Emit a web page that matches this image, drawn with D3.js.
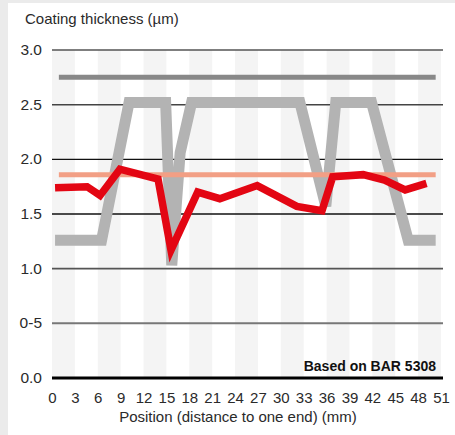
<!DOCTYPE html>
<html><head><meta charset="utf-8">
<script src="https://cdn.jsdelivr.net/npm/d3@7"></script>
<style>html,body{margin:0;padding:0;background:#ebebeb;}svg{display:block;}</style>
</head><body>
<svg id="chart" width="455" height="435"></svg>
<script>
// ---- data ----
const yTicks = [0, 0.5, 1.0, 1.5, 2.0, 2.5, 3.0];
const yTickLabels = ["0.0", "0-5", "1.0", "1.5", "2.0", "2.5", "3.0"];
const xTicks = [0, 3, 6, 9, 12, 15, 18, 21, 24, 27, 30, 33, 36, 39, 42, 45, 48, 51];
// measured coating thickness (red)
const redX = [0.4, 4.6, 6.3, 8.9, 13.9, 15.6, 19.1, 22.0, 26.9, 32.1, 35.4, 36.8, 40.8, 43.6, 46.3, 49.1];
const redY = [1.74, 1.75, 1.67, 1.91, 1.82, 1.17, 1.70, 1.64, 1.76, 1.57, 1.53, 1.84, 1.86, 1.81, 1.72, 1.78];
// reference profile (light grey)
const greyX = [0.4, 6.5, 10.1, 14.9, 15.7, 16.8, 18.3, 32.5, 35.9, 37.2, 41.9, 46.7, 50.3];
const greyY = [1.26, 1.26, 2.52, 2.52, 1.03, 2.06, 2.52, 2.52, 1.57, 2.52, 2.52, 1.26, 1.26];
// horizontal reference levels
const levelX = [0.9, 50.3];
const darkLevel = 2.75;
const salmonLevel = 1.86;
const noteText = "Based on BAR 5308";
const yTitle = "Coating thickness (\u00b5m)";
const xTitle = "Position (distance to one end) (mm)";

// ---- drawing ----
const svg = d3.select("#chart");
const font = "'Liberation Sans', Arial, Helvetica, sans-serif";
svg.append("rect").attr("x", 8).attr("y", 3).attr("width", 447).attr("height", 432).attr("fill", "#fff");

const x = d3.scaleLinear().domain([0, 51]).range([52, 441]);
const y = d3.scaleLinear().domain([0, 3]).range([378, 50]);

// stripes
const bands = d3.range(0, 51, 3).filter((d, i) => i % 2 === 0);
svg.append("g").selectAll("rect").data(bands).join("rect")
  .attr("x", d => x(d)).attr("width", d => x(d + 3) - x(d))
  .attr("y", y(3)).attr("height", y(0) - y(3))
  .attr("fill", "#f4f4f4");

// gridlines
const gridStyle = {3: ["#555", 1.5], 2.5: ["#444", 1.5], 2: ["#111", 1.3], 1.5: ["#111", 1.3], 1: ["#555", 1.8], 0.5: ["#777", 2], 0: ["#000", 3]};
svg.append("g").selectAll("line").data(yTicks).join("line")
  .attr("x1", 52).attr("x2", 443)
  .attr("y1", d => y(d)).attr("y2", d => y(d))
  .attr("stroke", d => gridStyle[d][0]).attr("stroke-width", d => gridStyle[d][1]);

// y axis labels
const yAxis = d3.axisLeft(y).tickValues(yTicks).tickSize(0).tickPadding(0)
  .tickFormat((d, i) => yTickLabels[i]);
const gy = svg.append("g").attr("transform", "translate(42,0)").call(yAxis);
gy.select(".domain").remove();
gy.selectAll("text").attr("font-family", font).attr("font-size", 15.5).attr("fill", "#2a2a2a").attr("dy", "0.3em");

// x axis labels
const xAxis = d3.axisBottom(x).tickValues(xTicks).tickSize(0).tickPadding(0).tickFormat(d3.format("d"));
const gx = svg.append("g").attr("transform", "translate(0,392)").call(xAxis);
gx.select(".domain").remove();
gx.selectAll("text").attr("font-family", font).attr("font-size", 15).attr("fill", "#2a2a2a").attr("dy", "0.71em");

// lines
const line = d3.line().x(d => x(d[0])).y(d => y(d[1]));
svg.append("path").datum(greyX.map((d, i) => [d, greyY[i]]))
  .attr("d", line).attr("fill", "none").attr("stroke", "#b3b3b3")
  .attr("stroke-width", 11).attr("stroke-linejoin", "miter").attr("stroke-miterlimit", 2);
svg.append("path").datum(levelX.map(d => [d, darkLevel]))
  .attr("d", line).attr("fill", "none").attr("stroke", "#888").attr("stroke-width", 5);
svg.append("path").datum(levelX.map(d => [d, salmonLevel]))
  .attr("d", line).attr("fill", "none").attr("stroke", "#f29f85").attr("stroke-width", 5);
svg.append("path").datum(redX.map((d, i) => [d, redY[i]]))
  .attr("d", line).attr("fill", "none").attr("stroke", "#e30613")
  .attr("stroke-width", 7.5).attr("stroke-linejoin", "miter").attr("stroke-miterlimit", 6);

// texts
svg.append("text").attr("x", 25).attr("y", 24).text(yTitle)
  .attr("font-family", font).attr("font-size", 15).attr("fill", "#2a2a2a");
svg.append("text").attr("x", 238).attr("y", 422).attr("text-anchor", "middle").text(xTitle)
  .attr("font-family", font).attr("font-size", 15).attr("fill", "#2a2a2a");
svg.append("text").attr("x", 436).attr("y", 371).attr("text-anchor", "end").text(noteText)
  .attr("font-family", font).attr("font-size", 14).attr("font-weight", "bold").attr("fill", "#111");
</script>
</body></html>
